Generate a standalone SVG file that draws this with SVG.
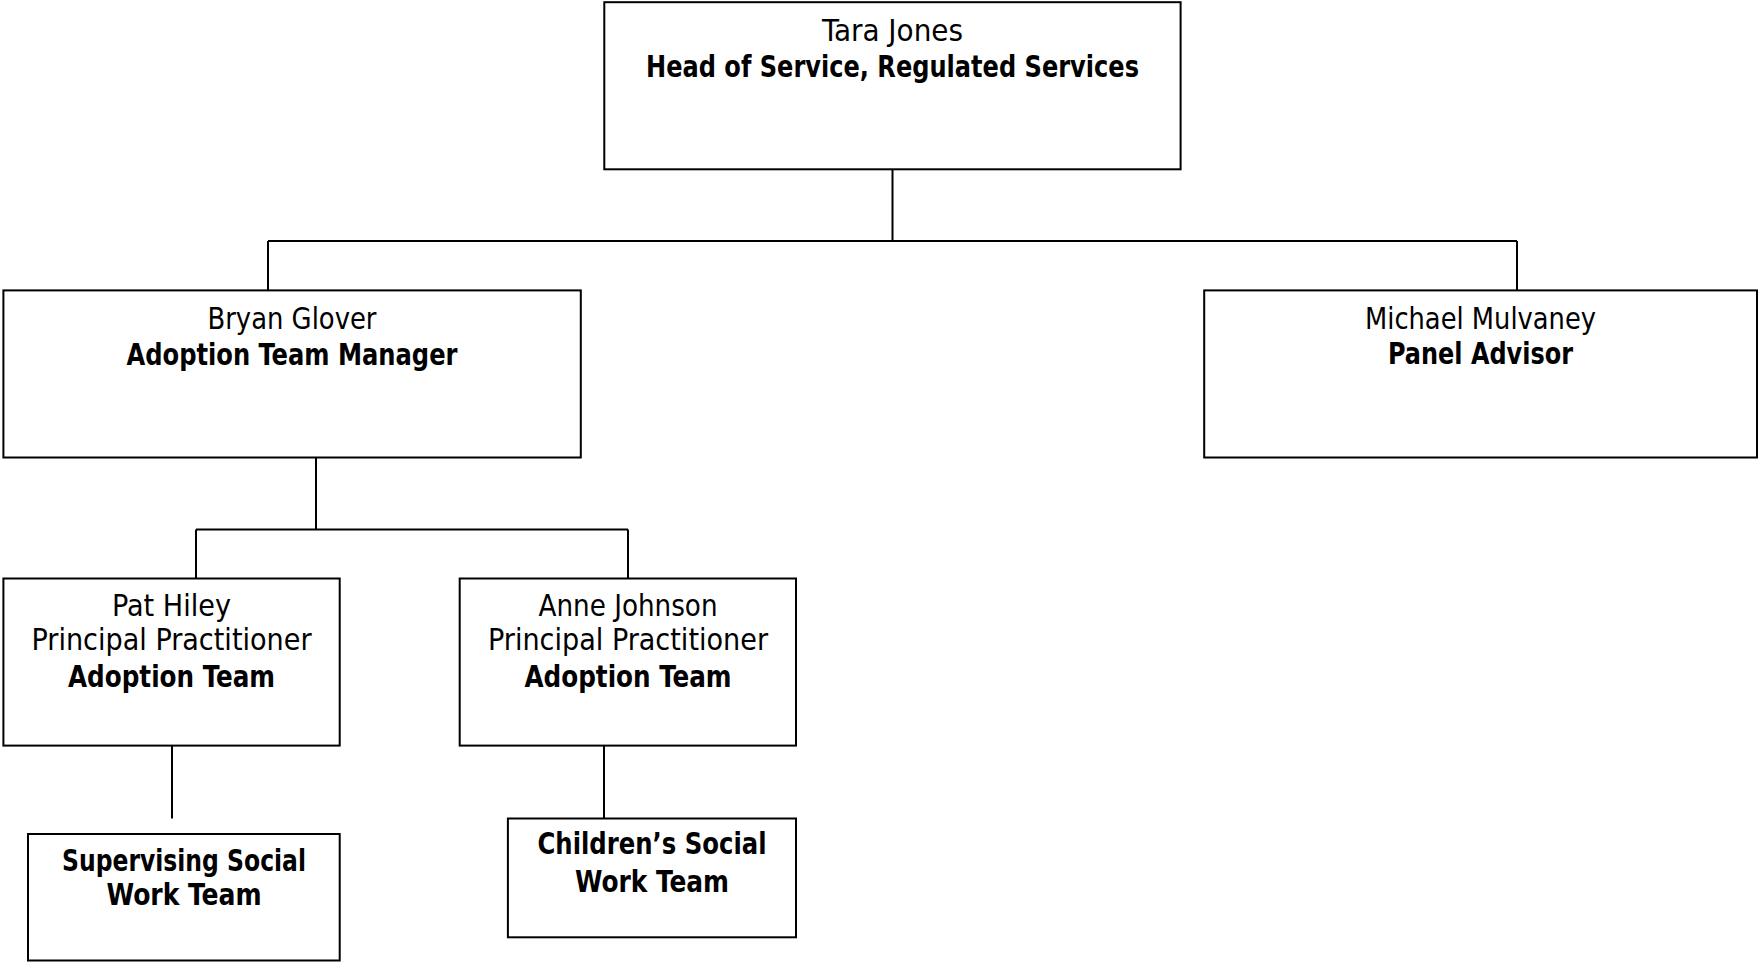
<svg xmlns="http://www.w3.org/2000/svg" width="1758" height="962" viewBox="0 0 1758 962">
<style>
.box{fill:#fff;stroke:#000;stroke-width:2}
.ln{fill:none;stroke:#000;stroke-width:2}
text{font-family:"DejaVu Sans Condensed","DejaVu Sans",sans-serif;font-stretch:condensed;font-size:30px;fill:#000;text-anchor:middle}
.b{font-weight:bold}
</style>
<rect width="1758" height="962" fill="#fff"/>
<g id="connectors">
<path class="ln" d="M892.5 169.3V241M268 241H1517M268 241V290.4M1517 241V290.4"/>
<path class="ln" d="M316 457.5V529.5M196 529.5H628M196 529.5V578.5M628 529.5V578.5"/>
<path class="ln" d="M172 745.6V818.5"/>
<path class="ln" d="M604 745.6V818.5"/>
</g>
<g id="tara">
<rect class="box" x="604.3" y="2.2" width="576.3" height="167.1"/>
<text x="892.5" y="40.5" textLength="141" lengthAdjust="spacingAndGlyphs">Tara Jones</text>
<text class="b" x="892.5" y="76.5" textLength="493" lengthAdjust="spacingAndGlyphs">Head of Service, Regulated Services</text>
</g>
<g id="bryan">
<rect class="box" x="3.4" y="290.4" width="577.4" height="167.1"/>
<text x="292" y="328.5" textLength="169" lengthAdjust="spacingAndGlyphs">Bryan Glover</text>
<text class="b" x="292" y="364.5" textLength="331" lengthAdjust="spacingAndGlyphs">Adoption Team Manager</text>
</g>
<g id="michael">
<rect class="box" x="1204.2" y="290.4" width="552.8" height="167.1"/>
<text x="1480.5" y="328.5" textLength="231" lengthAdjust="spacingAndGlyphs">Michael Mulvaney</text>
<text class="b" x="1480.5" y="364" textLength="185" lengthAdjust="spacingAndGlyphs">Panel Advisor</text>
</g>
<g id="pat">
<rect class="box" x="3.4" y="578.5" width="336.3" height="167.1"/>
<text x="171.5" y="615.8" textLength="119" lengthAdjust="spacingAndGlyphs">Pat Hiley</text>
<text x="171.5" y="649.8" textLength="280" lengthAdjust="spacingAndGlyphs">Principal Practitioner</text>
<text class="b" x="171.5" y="686.5" textLength="207" lengthAdjust="spacingAndGlyphs">Adoption Team</text>
</g>
<g id="anne">
<rect class="box" x="459.7" y="578.5" width="336.3" height="167.1"/>
<text x="628" y="615.8" textLength="179" lengthAdjust="spacingAndGlyphs">Anne Johnson</text>
<text x="628" y="649.8" textLength="280" lengthAdjust="spacingAndGlyphs">Principal Practitioner</text>
<text class="b" x="628" y="686.5" textLength="207" lengthAdjust="spacingAndGlyphs">Adoption Team</text>
</g>
<g id="supervising">
<rect class="box" x="28" y="834" width="311.7" height="126.5"/>
<text class="b" x="184" y="870.8" textLength="244" lengthAdjust="spacingAndGlyphs">Supervising Social</text>
<text class="b" x="184" y="904.8" textLength="155" lengthAdjust="spacingAndGlyphs">Work Team</text>
</g>
<g id="childrens">
<rect class="box" x="507.9" y="818.5" width="288.1" height="118.8"/>
<text class="b" x="652" y="854.2" textLength="229" lengthAdjust="spacingAndGlyphs">Children’s Social</text>
<text class="b" x="652" y="891.5" textLength="154" lengthAdjust="spacingAndGlyphs">Work Team</text>
</g>
</svg>
